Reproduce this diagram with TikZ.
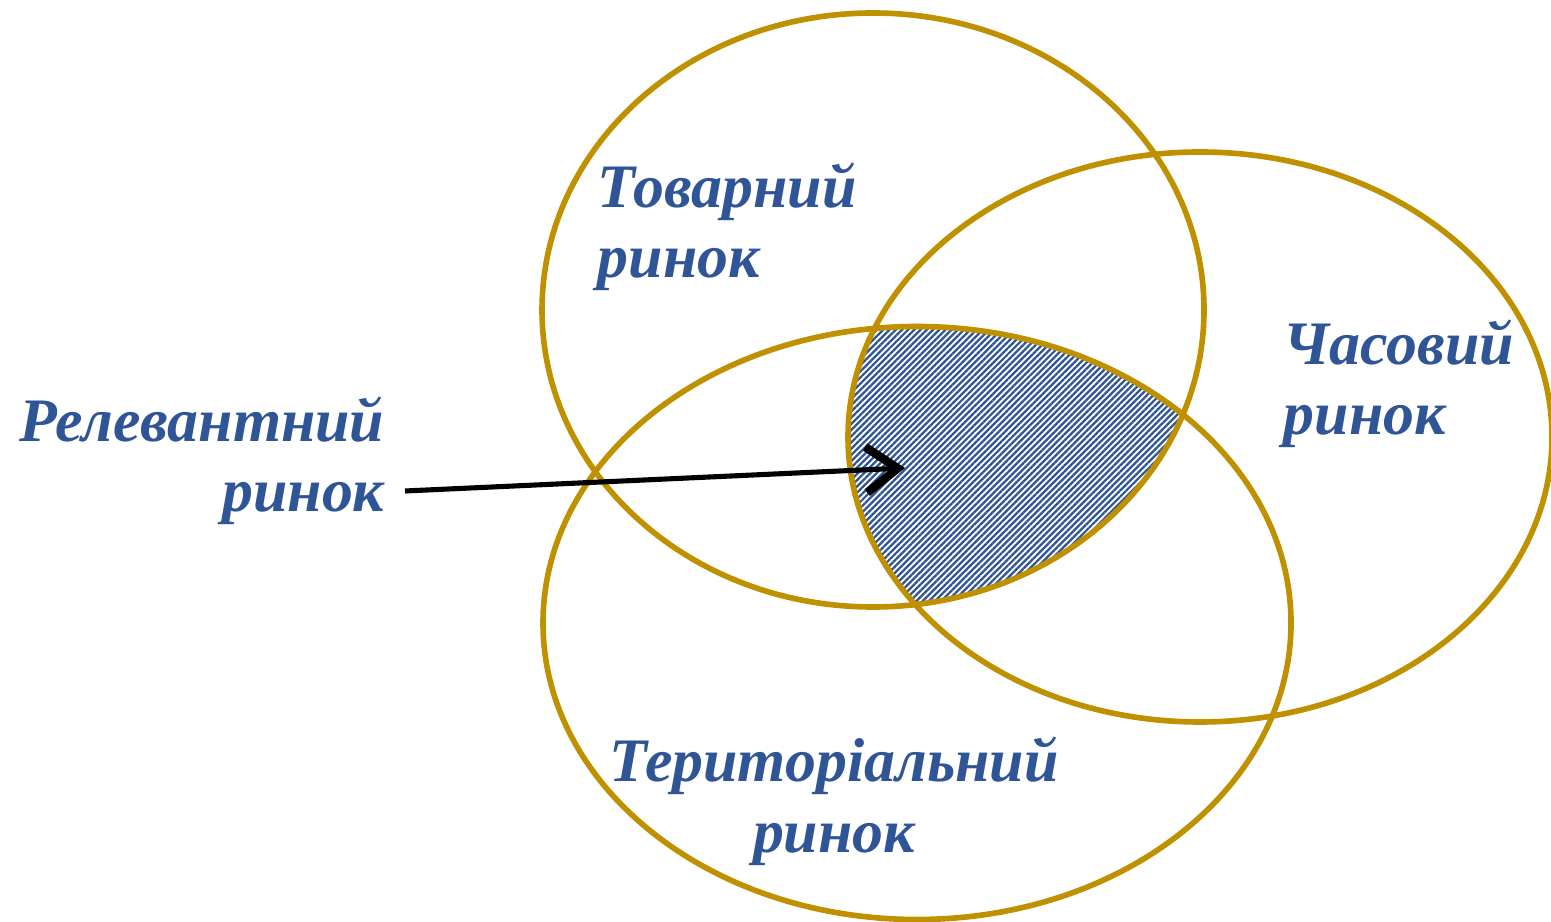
\documentclass[tikz,border=0pt]{standalone}
\usepackage{fontspec}
\setmainfont{Liberation Serif}
\usepackage{tikz}
\usetikzlibrary{arrows.meta,patterns.meta}
\definecolor{ringgold}{HTML}{BF9000}
\definecolor{lblblue}{HTML}{2F5597}

\begin{document}
\begin{tikzpicture}[>={Straight Barb[length=9pt,width=13pt,line width=2.4pt]},
    ring/.style={line width=1.6pt,ringgold},
    lbl/.style={font=\fontsize{17.6}{20}\selectfont\bfseries\itshape,lblblue,inner sep=0pt}]
    \useasboundingbox (0,0) rectangle (15.51,9.21);
    % спільна частина трьох ринків (штрихування)
    \begin{scope}
      \clip (8.73,6.11) ellipse [x radius=3.31,y radius=2.97];
      \clip (12.00,4.84) ellipse [x radius=3.52,y radius=2.85];
      \fill[pattern={Lines[angle=45,distance=1.25pt,line width=0.65pt]},pattern color=lblblue]
        (9.17,2.98) ellipse [x radius=3.74,y radius=2.965];
    \end{scope}
    % три ринки
    \draw[ring] (8.73,6.11) ellipse [x radius=3.31,y radius=2.97];
    \draw[ring] (12.00,4.84) ellipse [x radius=3.52,y radius=2.85];
    \draw[ring] (9.17,2.98) ellipse [x radius=3.74,y radius=2.965];
    % підписи
    \node[lbl,anchor=base west,align=left] (tovar) at (5.97,6.43) {Товарний\\ринок};
    \node[lbl,anchor=base west,align=left] (chas) at (12.83,4.86) {Часовий\\ринок};
    \node[lbl,anchor=base,align=center] (terr) at (8.34,0.69) {Територіальний\\ринок};
    \node[lbl,anchor=base east,align=right] (relev) at (3.85,4.09) {Релевантний\\ринок};
    % стрілка до релевантного ринку
    \coordinate (relfrom) at (4.05,4.30);
    \coordinate (relto) at (9.05,4.53);
    \draw[->,line width=1.45pt] (relfrom) -- (relto);
  \end{tikzpicture}
\end{document}
